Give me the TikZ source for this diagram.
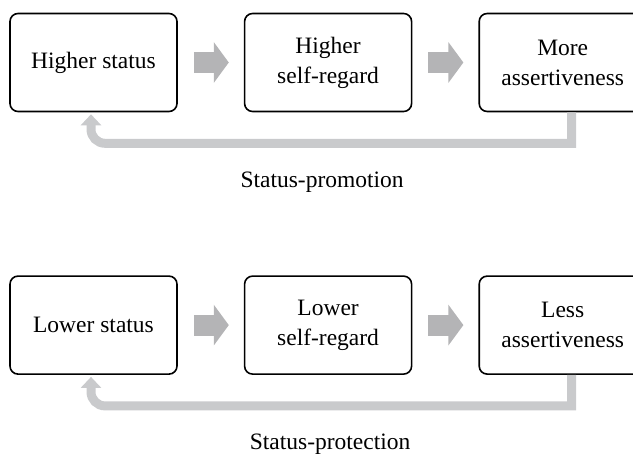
\documentclass[tikz,border=0pt]{standalone}
\usepackage{fontspec}
\setmainfont{Liberation Serif}
\usetikzlibrary{arrows.meta,positioning}
\definecolor{stepgray}{HTML}{B4B4B6}
\definecolor{loopgray}{HTML}{C9CACC}

\begin{document}
\begin{tikzpicture}[x=1pt,y=1pt,font=\fontsize{23.5}{30}\selectfont,node distance=66pt,
      b/.style={rectangle,draw,line width=1.6pt,rounded corners=8pt,minimum width=167pt,
                minimum height=98pt,align=center,inner sep=0pt},
      push/.style={draw=stepgray,line width=21pt,-{Triangle[length=15pt,width=40pt]},
                   shorten <=16pt,shorten >=15pt},
      back/.style={draw=loopgray,line width=9pt,-{Triangle[length=11pt,width=20pt]}}]
      \useasboundingbox (0,0) rectangle (633,-455);
      \clip (0,0) rectangle (633,-455);
      % status-promotion loop
      \node[b] (h1) at (93.5,-62.5) {Higher status};
      \node[b] (h2) [right=of h1] {Higher\\self-regard};
      \node[b] (h3) [right=of h2] {More\\assertiveness};
      \draw[push] (h1.east) -- (h2.west); \draw[push] (h2.east) -- (h3.west);
      \coordinate (hb) at ([yshift=-31pt]h1.south);
      \draw[back] ([xshift=9pt]h3.south) -- ([xshift=9pt]h3.south |- hb)
        [rounded corners=14pt] -- ([xshift=-2.5pt]hb) -- ([xshift=-2.5pt,yshift=-2pt]h1.south);
      \node[inner sep=0pt] (hp) [below=59pt of h2,xshift=-6pt] {Status-promotion};
      % status-protection loop
      \node[b] (l1) [below=163pt of h1] {Lower status};
      \node[b] (l2) [right=of l1] {Lower\\self-regard};
      \node[b] (l3) [right=of l2] {Less\\assertiveness};
      \draw[push] (l1.east) -- (l2.west); \draw[push] (l2.east) -- (l3.west);
      \coordinate (lb) at ([yshift=-31pt]l1.south);
      \draw[back] ([xshift=9pt]l3.south) -- ([xshift=9pt]l3.south |- lb)
        [rounded corners=14pt] -- ([xshift=-2.5pt]lb) -- ([xshift=-2.5pt,yshift=-2pt]l1.south);
      \node[inner sep=0pt] (lp) [below=59pt of l2,xshift=2pt] {Status-protection};
    \end{tikzpicture}
\end{document}
